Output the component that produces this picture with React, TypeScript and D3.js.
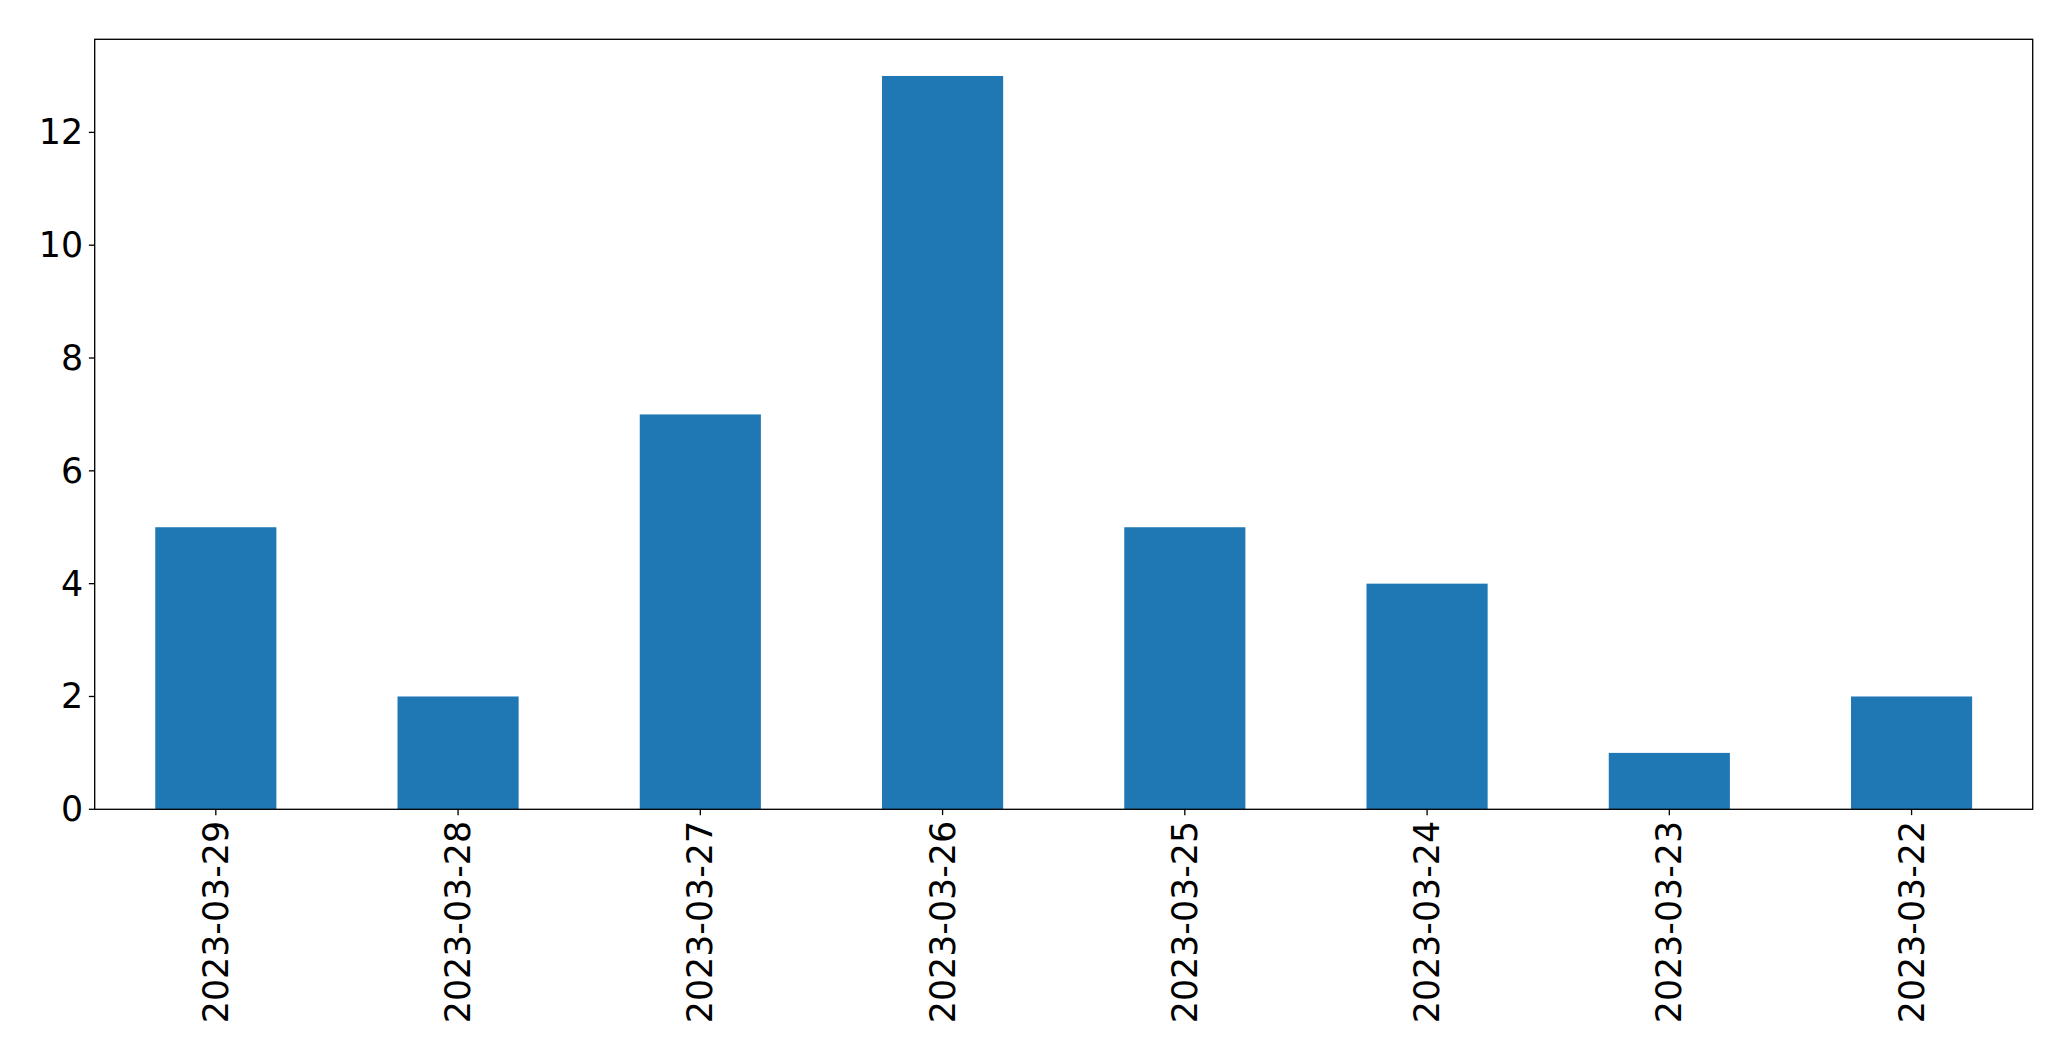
import React from "react";
import * as d3 from "d3";

const categories = ["2023-03-29", "2023-03-28", "2023-03-27", "2023-03-26", "2023-03-25", "2023-03-24", "2023-03-23", "2023-03-22"];
const values = [5, 2, 7, 13, 5, 4, 1, 2];
const yTicks = [0, 2, 4, 6, 8, 10, 12];

const W = 2071;
const H = 1061;
const left = 94.7;
const right = 2032.7;
const top = 39.3;
const bottom = 809.3;
const fontSize = 34.8;
const tickLen = 5.83;
const pad = 5.83;
const lw = 1.33;
const font = "DejaVu Sans, sans-serif";

export default function App() {
  const x = d3.scaleLinear().domain([-0.5, categories.length - 0.5]).range([left, right]);
  const yMax = d3.max(values)! * 1.05;
  const y = d3.scaleLinear().domain([0, yMax]).range([bottom, top]);
  const bw = x(0.25) - x(-0.25);
  return (
    <svg width={W} height={H} style={{ position: "absolute", left: 0, top: 0, background: "#fff" }}>
      <rect x={0} y={0} width={W} height={H} fill="#fff" />
      {values.map((v, i) => (
        <rect key={i} x={x(i) - bw / 2} y={y(v)} width={bw} height={y(0) - y(v)} fill="#1f77b4" />
      ))}
      {yTicks.map((t) => (
        <g key={t}>
          <line x1={left - tickLen} x2={left} y1={y(t)} y2={y(t)} stroke="#000" strokeWidth={lw} />
          <text x={left - tickLen - pad} y={y(t)} textAnchor="end" dominantBaseline="central" fontFamily={font} fontSize={fontSize} fill="#000">
            {t}
          </text>
        </g>
      ))}
      {categories.map((c, i) => (
        <g key={c}>
          <line x1={x(i)} x2={x(i)} y1={bottom} y2={bottom + tickLen} stroke="#000" strokeWidth={lw} />
          <text
            transform={`translate(${x(i)},${bottom + tickLen + pad}) rotate(-90)`}
            textAnchor="end"
            dominantBaseline="central"
            fontFamily={font}
            fontSize={fontSize}
            fill="#000"
          >
            {c}
          </text>
        </g>
      ))}
      <rect x={left} y={top} width={right - left} height={bottom - top} fill="none" stroke="#000" strokeWidth={lw} />
    </svg>
  );
}
